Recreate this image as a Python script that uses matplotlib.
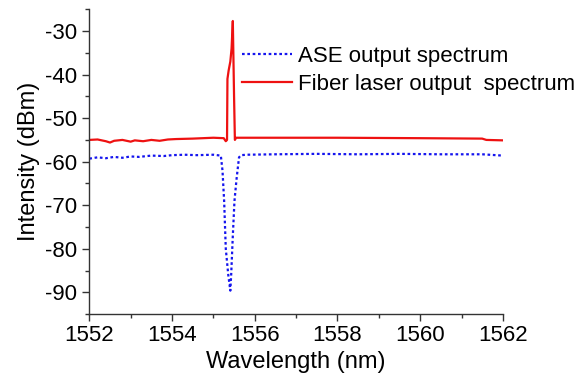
import numpy as np
import matplotlib
matplotlib.use("Agg")
import matplotlib.pyplot as plt
from matplotlib.ticker import MultipleLocator

plt.rcParams['font.family'] = ['Liberation Sans', 'DejaVu Sans']
plt.rcParams['axes.unicode_minus'] = False

# ASE output spectrum
ase_wl = [1552.0, 1552.2, 1552.4, 1552.6, 1552.8, 1553.0, 1553.2, 1553.5, 1553.8,
          1554.0, 1554.3, 1554.6, 1555.0, 1555.18, 1555.22, 1555.26, 1555.30, 1555.36,
          1555.41, 1555.43, 1555.47, 1555.51, 1555.56, 1555.62, 1555.67, 1555.8,
          1556.5, 1557.5, 1558.5, 1559.5, 1560.5, 1561.5, 1562.0]
ase_db = [-59.3, -59.0, -59.2, -58.9, -59.1, -58.8, -58.9, -58.6, -58.7,
          -58.5, -58.4, -58.5, -58.4, -58.6, -62.0, -69.0, -80.0, -86.0,
          -89.6, -86.0, -77.0, -69.0, -64.0, -59.0, -58.5, -58.4,
          -58.3, -58.2, -58.3, -58.2, -58.3, -58.3, -58.6]

# Fiber laser output spectrum
fl_wl = [1552.0, 1552.2, 1552.4, 1552.5, 1552.6, 1552.8, 1553.0, 1553.1, 1553.3,
         1553.5, 1553.7, 1553.9, 1554.1, 1554.5, 1555.0, 1555.25, 1555.30, 1555.33,
         1555.34, 1555.37, 1555.41, 1555.44, 1555.47, 1555.50, 1555.52, 1555.55,
         1556.0, 1558.0, 1560.0, 1561.5, 1561.6, 1562.0]
fl_db = [-55.0, -54.9, -55.3, -55.6, -55.2, -55.0, -55.4, -55.1, -55.3,
         -55.0, -55.2, -54.9, -54.8, -54.7, -54.5, -54.6, -55.3, -55.0,
         -41.0, -39.0, -37.0, -34.0, -27.7, -45.0, -55.0, -54.5,
         -54.5, -54.5, -54.6, -54.7, -55.0, -55.1]

fig = plt.figure(figsize=(5.8, 3.85), dpi=100)
ax = fig.add_axes([0.154, 0.184, 0.713, 0.792])

ax.plot(ase_wl, ase_db, color='#1515ee', lw=1.6, linestyle=(0, (1.2, 1.2)),
        label='ASE output spectrum')
ax.plot(fl_wl, fl_db, color='#ee1111', lw=1.6, label='Fiber laser output  spectrum')

ax.set_xlim(1552, 1562)
ax.set_ylim(-95, -25)
ax.xaxis.set_major_locator(MultipleLocator(2))
ax.xaxis.set_minor_locator(MultipleLocator(1))
ax.yaxis.set_major_locator(MultipleLocator(10))
ax.yaxis.set_minor_locator(MultipleLocator(5))

for s in ['top', 'right']:
    ax.spines[s].set_visible(False)
for s in ['left', 'bottom']:
    ax.spines[s].set_color('#333333')
    ax.spines[s].set_linewidth(1.0)
ax.tick_params(which='major', direction='out', length=5, width=1, color='#333333',
               labelsize=16)
ax.tick_params(axis='x', which='major', pad=3)
ax.tick_params(axis='y', which='major', pad=4)
ax.tick_params(which='minor', direction='out', length=3, width=1, color='#333333')

ax.set_xlabel('Wavelength (nm)', fontsize=17, labelpad=3.5)
ax.set_ylabel('Intensity (dBm)', fontsize=17, labelpad=3.5)

ax.legend(loc='upper left', bbox_to_anchor=(0.370, 0.879), frameon=False,
          fontsize=16, borderpad=0, borderaxespad=0, handlelength=2.25,
          handletextpad=0.27, labelspacing=0.32)

fig.savefig('out.png', dpi=100)
